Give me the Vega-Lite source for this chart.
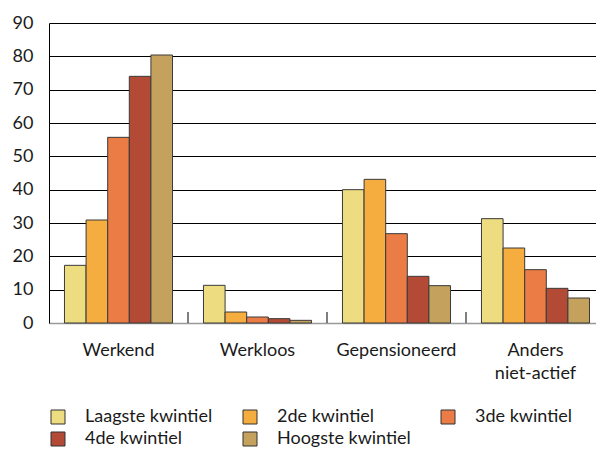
{
  "$schema": "https://vega.github.io/schema/vega-lite/v6.json",
  "width": 547,
  "height": 300,
  "autosize": "none",
  "padding": {"left": 49, "top": 23, "right": 0, "bottom": 126},
  "config": {
    "font": "Lato",
    "view": {"stroke": null},
    "axis": {"labelFont": "Lato", "labelColor": "#1a1a1a", "labelFontSize": 18}
  },
  "datasets": {
    "main": [
      {"status": "Werkend", "kwintiel": "Laagste kwintiel", "waarde": 17.3},
      {"status": "Werkend", "kwintiel": "2de kwintiel", "waarde": 30.9},
      {"status": "Werkend", "kwintiel": "3de kwintiel", "waarde": 55.7},
      {"status": "Werkend", "kwintiel": "4de kwintiel", "waarde": 74.0},
      {"status": "Werkend", "kwintiel": "Hoogste kwintiel", "waarde": 80.4},
      {"status": "Werkloos", "kwintiel": "Laagste kwintiel", "waarde": 11.3},
      {"status": "Werkloos", "kwintiel": "2de kwintiel", "waarde": 3.3},
      {"status": "Werkloos", "kwintiel": "3de kwintiel", "waarde": 1.8},
      {"status": "Werkloos", "kwintiel": "4de kwintiel", "waarde": 1.3},
      {"status": "Werkloos", "kwintiel": "Hoogste kwintiel", "waarde": 0.8},
      {"status": "Gepensioneerd", "kwintiel": "Laagste kwintiel", "waarde": 40.0},
      {"status": "Gepensioneerd", "kwintiel": "2de kwintiel", "waarde": 43.1},
      {"status": "Gepensioneerd", "kwintiel": "3de kwintiel", "waarde": 26.8},
      {"status": "Gepensioneerd", "kwintiel": "4de kwintiel", "waarde": 14.0},
      {"status": "Gepensioneerd", "kwintiel": "Hoogste kwintiel", "waarde": 11.2},
      {"status": "Anders niet-actief", "kwintiel": "Laagste kwintiel", "waarde": 31.3},
      {"status": "Anders niet-actief", "kwintiel": "2de kwintiel", "waarde": 22.5},
      {"status": "Anders niet-actief", "kwintiel": "3de kwintiel", "waarde": 16.0},
      {"status": "Anders niet-actief", "kwintiel": "4de kwintiel", "waarde": 10.4},
      {"status": "Anders niet-actief", "kwintiel": "Hoogste kwintiel", "waarde": 7.5}
    ],
    "separators": [
      {"status": "Werkloos"},
      {"status": "Gepensioneerd"},
      {"status": "Anders niet-actief"}
    ]
  },
  "layer": [
    {
      "data": {"name": "main"},
      "mark": {"type": "bar", "stroke": "#3a3a3a", "strokeWidth": 1},
      "encoding": {
        "x": {
          "field": "status",
          "type": "nominal",
          "sort": ["Werkend", "Werkloos", "Gepensioneerd", "Anders niet-actief"],
          "scale": {"range": [0, 556], "paddingInner": 0, "paddingOuter": 0},
          "axis": {
            "title": null,
            "labelAngle": 0,
            "ticks": false,
            "domainColor": "#999999",
            "domainWidth": 1.5,
            "labelPadding": 18,
            "labelBaseline": "top",
            "labelLineHeight": 23,
            "labelExpr": "datum.label == 'Anders niet-actief' ? ['Anders', 'niet-actief'] : datum.label"
          }
        },
        "xOffset": {
          "field": "kwintiel",
          "type": "nominal",
          "sort": ["Laagste kwintiel", "2de kwintiel", "3de kwintiel", "4de kwintiel", "Hoogste kwintiel"],
          "scale": {"paddingInner": 0, "paddingOuter": 0.716}
        },
        "y": {
          "field": "waarde",
          "type": "quantitative",
          "scale": {"domain": [0, 90], "nice": false},
          "axis": {
            "title": null,
            "values": [0, 10, 20, 30, 40, 50, 60, 70, 80, 90],
            "ticks": false,
            "labelOverlap": false,
            "labelPadding": 16,
            "domainColor": "#000000",
            "gridColor": {"condition": {"test": "datum.value === 0", "value": "#999999"}, "value": "#000000"},
            "gridOpacity": 1,
            "gridWidth": 1
          }
        },
        "color": {
          "field": "kwintiel",
          "type": "nominal",
          "sort": ["Laagste kwintiel", "2de kwintiel", "3de kwintiel", "4de kwintiel", "Hoogste kwintiel"],
          "scale": {
            "domain": ["Laagste kwintiel", "2de kwintiel", "3de kwintiel", "4de kwintiel", "Hoogste kwintiel"],
            "range": ["#EDDC80", "#F5AD3F", "#EC7C46", "#B34A35", "#C4A15C"]
          },
          "legend": {
            "title": null,
            "orient": "none",
            "legendX": 0,
            "legendY": 385,
            "direction": "horizontal",
            "columns": 3,
            "symbolType": "square",
            "symbolSize": 196,
            "symbolStrokeColor": "#333333",
            "symbolStrokeWidth": 1,
            "labelFontSize": 18,
            "labelFont": "Lato",
            "labelColor": "#1a1a1a",
            "labelOffset": 18,
            "columnPadding": 28,
            "rowPadding": 4,
            "labelLimit": 300
          }
        }
      }
    },
    {
      "data": {"name": "separators"},
      "mark": {"type": "rule", "color": "#555555", "strokeWidth": 1.5},
      "encoding": {
        "x": {
          "field": "status",
          "type": "nominal",
          "bandPosition": 0,
          "sort": ["Werkend", "Werkloos", "Gepensioneerd", "Anders niet-actief"],
          "axis": {
            "title": null,
            "labelAngle": 0,
            "ticks": false,
            "domainColor": "#999999",
            "domainWidth": 1.5,
            "labelPadding": 18,
            "labelBaseline": "top",
            "labelLineHeight": 23,
            "labelExpr": "datum.label == 'Anders niet-actief' ? ['Anders', 'niet-actief'] : datum.label"
          }
        },
        "y": {
          "datum": 0,
          "type": "quantitative",
          "axis": {
            "title": null,
            "values": [0, 10, 20, 30, 40, 50, 60, 70, 80, 90],
            "ticks": false,
            "labelOverlap": false,
            "labelPadding": 16,
            "domainColor": "#000000",
            "gridColor": {"condition": {"test": "datum.value === 0", "value": "#999999"}, "value": "#000000"},
            "gridOpacity": 1,
            "gridWidth": 1
          }
        },
        "y2": {"datum": 3.3}
      }
    }
  ]
}
